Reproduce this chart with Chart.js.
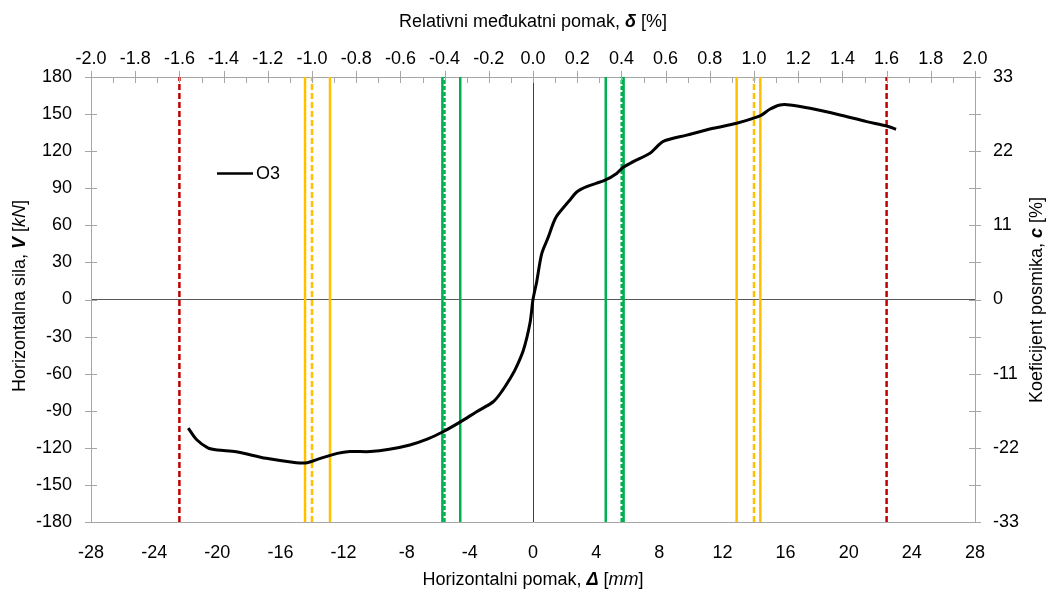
<!DOCTYPE html>
<html>
<head>
<meta charset="utf-8">
<script src="https://cdn.jsdelivr.net/npm/chart.js@4"></script>
<style>
  body { margin: 0; background: #fff; }
  canvas { display: block; }
</style>
</head>
<body>
<canvas id="chart" width="1053" height="594"></canvas>
<script>
// O3 envelope: horizontal displacement [mm] vs horizontal force [kN]
const dispX = [-21.84, -21.3, -20.6, -20.0, -18.8, -16.9, -15.0, -14.3, -13.7, -12.4, -11.6, -10.3, -9.1, -7.8, -6.7, -5.7, -4.6, -3.6, -2.5, -1.9, -1.5, -1.14, -0.61, -0.19, 0,
  0.23, 0.55, 0.97, 1.29, 1.5, 2.34, 2.77, 3.4, 4.56, 5.3, 5.72, 6.35, 7.41, 7.84, 8.25, 9.74, 11.42, 12.9, 14.38, 15.0, 15.65, 16.28, 17.55, 19.45, 21.14, 22.4, 23.0];
const forceV = [-104, -113.5, -120, -121.8, -123.2, -128.5, -132, -132, -129.5, -124.5, -123, -123, -121.2, -117.7, -113, -107, -99, -91, -82.5, -73, -65, -57, -41, -19, 0,
  14, 37, 50.5, 62, 67.5, 80.5, 87, 91.3, 96.5, 102, 107, 111.5, 118.3, 123.5, 128, 133, 138.5, 142.6, 148.5, 153.9, 157.4, 157.4, 154.7, 149.3, 143.9, 140.4, 137.7];

// vertical marker lines (x positions in mm)
const greenSolid = [-5.74, -4.61, 4.61, 5.74];
const greenDashed = [-5.61, 5.62];
const yellowSolid = [-14.44, -12.86, 12.9, 14.4];
const yellowDashed = [-14.0, 14.0];
const redDashed = [-22.4, 22.4];

const font = "'Liberation Sans', Arial, sans-serif";
const tickFont = { family: font, size: 18 };
const axisGrey = '#a6a6a6';

function vline(x, color, dash) {
  return {
    label: '',
    data: [{ x: x, y: -180 }, { x: x, y: 180 }],
    showLine: true,
    borderColor: color,
    borderWidth: 2.5,
    borderDash: dash || [],
    pointRadius: 0,
    xAxisID: 'x',
    yAxisID: 'y'
  };
}

const datasets = [{
  label: 'O3',
  data: dispX.map((x, i) => ({ x: x, y: forceV[i] })),
  showLine: true,
  borderColor: '#000',
  borderWidth: 3,
  pointRadius: 0,
  tension: 0.3,
  xAxisID: 'x',
  yAxisID: 'y'
}];
greenSolid.forEach(x => datasets.push(vline(x, '#00b050')));
greenDashed.forEach(x => datasets.push(vline(x, '#00b050', [4, 2])));
yellowSolid.forEach(x => datasets.push(vline(x, '#ffc000')));
yellowDashed.forEach(x => datasets.push(vline(x, '#ffc000', [6, 3])));
redDashed.forEach(x => datasets.push(vline(x, '#c00000', [6, 3])));

// draws text made of parts with different styles, centred on (x, y)
function richText(ctx, parts, x, y, rot) {
  ctx.save();
  ctx.translate(x, y);
  ctx.rotate(rot || 0);
  ctx.textBaseline = 'middle';
  ctx.fillStyle = '#000';
  let total = 0;
  parts.forEach(p => {
    ctx.font = p[1] + ' 18px ' + font;
    total += ctx.measureText(p[0]).width;
  });
  let cx = -total / 2;
  parts.forEach(p => {
    ctx.font = p[1] + ' 18px ' + font;
    ctx.textAlign = 'left';
    ctx.fillText(p[0], cx, 0);
    cx += ctx.measureText(p[0]).width;
  });
  ctx.restore();
}

const decor = {
  id: 'decor',
  afterDraw(chart) {
    const { ctx, chartArea: a, scales } = chart;
    ctx.save();
    ctx.strokeStyle = axisGrey;
    ctx.lineWidth = 1;
    const seg = (x1, y1, x2, y2) => {
      ctx.beginPath(); ctx.moveTo(x1, y1); ctx.lineTo(x2, y2); ctx.stroke();
    };
    for (let v = -180; v <= 180; v += 30) {
      const y = Math.round(scales.y.getPixelForValue(v)) + 0.5;
      seg(a.left - 6, y, a.left + 6, y);
    }
    for (let i = -6; i <= 6; i++) {
      const y = Math.round(scales.y2.getPixelForValue(i * 5.5)) + 0.5;
      seg(a.right - 6, y, a.right + 6, y);
    }
    for (let i = -20; i <= 20; i++) {
      const x = Math.round(scales.x2.getPixelForValue(i / 10)) + 0.5;
      seg(x, a.top - (i % 2 === 0 ? 6 : 0), x, a.top + 6);
    }
    ctx.restore();

    // legend
    ctx.save();
    ctx.strokeStyle = '#000';
    ctx.lineWidth = 2.5;
    ctx.beginPath(); ctx.moveTo(217, 173.5); ctx.lineTo(253, 173.5); ctx.stroke();
    ctx.fillStyle = '#000';
    ctx.font = '18px ' + font;
    ctx.textBaseline = 'middle';
    ctx.fillText(chart.data.datasets[0].label, 256, 174);
    ctx.restore();

    // axis titles
    richText(ctx, [['Relativni međukatni pomak, ', ''], ['δ', 'bold italic'], [' [%]', '']], 533, 22, 0);
    richText(ctx, [['Horizontalni pomak, ', ''], ['Δ', 'bold italic'], [' [', ''], ['mm', 'italic'], [']', '']], 533, 580, 0);
    richText(ctx, [['Horizontalna sila, ', ''], ['V', 'bold italic'], [' [', ''], ['kN', 'italic'], [']', '']], 20, 296, -Math.PI / 2);
    richText(ctx, [['Koeficijent posmika, ', ''], ['c', 'bold italic'], [' [%]', '']], 1037, 300, -Math.PI / 2);
  }
};

new Chart(document.getElementById('chart'), {
  type: 'scatter',
  data: { datasets },
  options: {
    responsive: false,
    animation: false,
    layout: { padding: 0 },
    plugins: { legend: { display: false }, tooltip: { enabled: false } },
    scales: {
      x: {
        type: 'linear', position: 'bottom', min: -28, max: 28,
        ticks: { stepSize: 4, font: tickFont, color: '#000', padding: 20 },
        grid: { drawTicks: false, lineWidth: 1, color: c => c.tick && c.tick.value === 0 ? '#404040' : 'transparent' },
        border: { color: axisGrey },
        afterFit: s => { s.height = 72; }
      },
      x2: {
        type: 'linear', position: 'top', min: -2, max: 2,
        ticks: { stepSize: 0.2, font: tickFont, color: '#000', padding: 7, callback: v => v.toFixed(1) },
        grid: { drawTicks: false, drawOnChartArea: false },
        border: { color: axisGrey },
        afterFit: s => { s.height = 77; }
      },
      y: {
        type: 'linear', position: 'left', min: -180, max: 180,
        ticks: { stepSize: 30, font: tickFont, color: '#000', padding: 19 },
        grid: { drawTicks: false, lineWidth: 1, color: c => c.tick && c.tick.value === 0 ? '#595959' : 'transparent' },
        border: { color: axisGrey },
        afterFit: s => { s.width = 91; }
      },
      y2: {
        type: 'linear', position: 'right', min: -33, max: 33,
        ticks: { stepSize: 11, font: tickFont, color: '#000', padding: 18 },
        grid: { drawTicks: false, drawOnChartArea: false },
        border: { color: axisGrey },
        afterFit: s => { s.width = 78; }
      }
    }
  },
  plugins: [decor]
});
</script>
</body>
</html>
